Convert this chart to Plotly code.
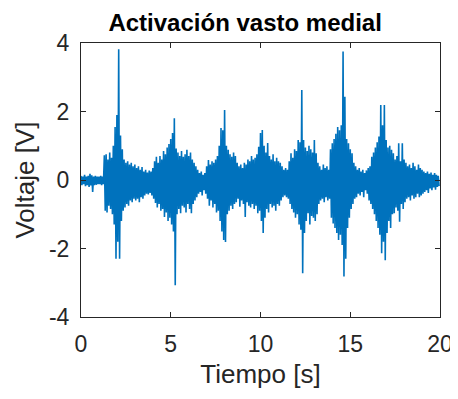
import numpy as np
import plotly.graph_objects as go

# Envelope of the EMG trace, one value every 0.1 s (0 .. 19.9 s)
upper = [
    0.12, 0.10, 0.15, 0.10, 0.12, 0.18, 0.14, 0.10, 0.12, 0.10,
    0.10, 0.12, 0.10, 0.72, 0.75, 0.60, 0.80, 0.65, 1.00, 1.55,
    1.90, 3.82, 1.30, 0.90, 0.60, 0.50, 0.55, 0.45, 0.50, 0.40,
    0.45, 0.35, 0.40, 0.30, 0.38, 0.25, 0.30, 0.22, 0.28, 0.25,
    0.35, 0.55, 0.68, 0.50, 0.70, 0.60, 0.85, 0.75, 0.95, 1.05,
    1.20, 1.37, 1.80, 0.92, 0.80, 0.70, 0.85, 0.68, 0.75, 0.88,
    0.70, 0.80, 0.60, 0.50, 0.40, 0.30, 0.20, 0.25, 0.15, 0.20,
    0.40, 0.58, 0.45, 0.55, 0.50, 0.60, 0.70, 1.00, 1.52, 1.45,
    2.04, 1.00, 0.88, 0.75, 0.68, 0.80, 0.70, 0.50, 0.40, 0.45,
    0.35, 0.50, 0.45, 0.60, 0.55, 0.70, 0.60, 0.65, 0.75, 0.97,
    1.37, 1.46, 1.00, 0.80, 1.08, 0.70, 0.60, 0.75, 0.55, 0.65,
    0.55, 0.50, 0.40, 0.30, 0.35, 0.30, 0.55, 0.78, 0.65, 0.90,
    0.85, 1.17, 1.10, 2.63, 1.17, 0.95, 0.85, 1.00, 0.90, 0.80,
    1.17, 0.78, 0.50, 0.40, 0.30, 0.45, 0.35, 0.40, 0.30, 0.90,
    1.07, 1.20, 1.35, 1.55, 1.45, 1.60, 3.75, 2.43, 1.20, 1.07,
    0.90, 0.78, 0.50, 0.40, 0.30, 0.35, 0.25, 0.30, 0.20, 0.28,
    0.35, 0.40, 0.68, 0.80, 0.95, 1.10, 1.27, 2.19, 1.60, 2.19,
    1.17, 0.95, 1.00, 0.88, 0.78, 0.60, 0.70, 1.07, 0.55, 1.07,
    0.60, 0.50, 0.40, 0.45, 0.35, 0.50, 0.40, 0.30, 0.45, 0.35,
    0.30, 0.25, 0.20, 0.25, 0.18, 0.22, 0.15, 0.20, 0.15, 0.12,
]
lower = [
    -0.15, -0.12, -0.18, -0.15, -0.20, -0.16, -0.35, -0.15, -0.14, -0.12,
    -0.12, -0.15, -0.12, -0.90, -0.95, -0.75, -0.85, -1.00, -1.30, -2.30,
    -1.80, -2.30, -1.20, -0.90, -0.80, -0.70, -0.75, -0.60, -0.65, -0.55,
    -0.60, -0.55, -0.65, -0.50, -0.55, -0.45, -0.40, -0.42, -0.38, -0.45,
    -0.55, -0.67, -0.80, -0.70, -0.90, -0.85, -1.08, -0.95, -1.20, -1.10,
    -1.30, -1.50, -3.07, -1.00, -0.85, -0.97, -0.75, -0.80, -0.95, -0.70,
    -0.85, -0.97, -0.70, -0.60, -0.50, -0.40, -0.35, -0.45, -0.30, -0.40,
    -0.55, -0.75, -0.60, -0.80, -0.70, -0.95, -0.90, -1.20, -1.50, -1.75,
    -1.81, -1.00, -0.90, -0.75, -0.85, -0.70, -0.65, -0.55, -0.78, -0.60,
    -0.70, -1.08, -0.65, -0.75, -0.80, -0.70, -0.85, -0.75, -0.97, -0.90,
    -1.20, -1.55, -1.10, -0.85, -0.95, -0.70, -0.80, -0.75, -0.90, -0.70,
    -0.75, -0.60, -0.50, -0.45, -0.50, -0.55, -0.70, -0.85, -0.95, -1.10,
    -1.00, -1.30, -1.45, -2.72, -1.55, -1.20, -0.97, -1.30, -1.05, -1.10,
    -1.20, -1.00, -0.70, -0.60, -0.55, -0.65, -0.50, -0.60, -0.55, -1.10,
    -1.27, -1.40, -1.55, -1.75, -1.60, -1.90, -2.82, -2.30, -1.40, -1.10,
    -0.85, -0.70, -0.55, -0.50, -0.40, -0.45, -0.35, -0.50, -0.30, -0.40,
    -0.60, -0.70, -0.85, -1.00, -1.20, -1.40, -1.60, -2.14, -1.80, -2.34,
    -1.55, -1.20, -1.40, -1.00, -0.97, -0.80, -0.90, -1.22, -0.70, -0.85,
    -0.65, -0.55, -0.50, -0.60, -0.45, -0.55, -0.50, -0.40, -0.50, -0.45,
    -0.40, -0.35, -0.30, -0.38, -0.25, -0.30, -0.22, -0.28, -0.20, -0.18,
]
x_ticks = [0, 5, 10, 15, 20]
y_ticks = [-4, -2, 0, 2, 4]
y_labels = ["-4", "-2", "0", "2", "4"]

# sample grid, upper value then lower value half a step later
t = np.arange(len(upper)) * 0.1
tt = np.column_stack([t, t + 0.05]).ravel()
vv = np.column_stack([upper, lower]).ravel()

fig = go.Figure(go.Scatter(x=tt, y=vv, mode="lines",
                           line=dict(color="#0072BD", width=1.6),
                           hoverinfo="skip"))

axis_style = dict(showgrid=False, zeroline=False, showline=True, mirror="ticks",
                  linecolor="#262626", linewidth=1, ticks="inside", ticklen=5,
                  tickcolor="#262626", automargin=False,
                  tickfont=dict(family="Liberation Sans", size=23, color="#262626"))
label_font = dict(family="Liberation Sans", size=26, color="#262626")

# page body adds an 8 px margin, so the figure is 8 px smaller each way
fig.update_layout(
    width=450, height=391,
    margin=dict(l=73, r=18, t=35, b=82),
    paper_bgcolor="white", plot_bgcolor="white",
    showlegend=False,
    title=dict(text="<b>Activación vasto medial</b>", x=0.527, xanchor="center",
               y=0.962, yanchor="middle",
               font=dict(family="Liberation Sans", size=24, color="black")),
    xaxis=dict(range=[0, 20], tickvals=x_ticks, ticklabelstandoff=6,
               title=dict(text="Tiempo [s]", standoff=9, font=label_font),
               **axis_style),
    yaxis=dict(range=[-4, 4], tickvals=y_ticks, ticktext=y_labels,
               ticklabelstandoff=6,
               title=dict(text="Voltaje [V]", standoff=6, font=label_font),
               **axis_style),
)

fig.write_html("out.html")
